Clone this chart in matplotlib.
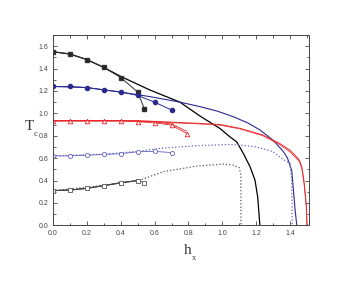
import matplotlib.pyplot as plt
from matplotlib.ticker import MultipleLocator

# simulation points (filled = upper branch, open = lower branch)
h_sq = [0.0, 0.1, 0.2, 0.3, 0.4, 0.5, 0.54]
tc_sq_filled = [1.55, 1.53, 1.48, 1.41, 1.32, 1.19, 1.04]
tc_sq_open = [0.31, 0.315, 0.33, 0.355, 0.38, 0.40, 0.38]

h_circ = [0.0, 0.1, 0.2, 0.3, 0.4, 0.5, 0.6, 0.7]
tc_circ_filled = [1.24, 1.24, 1.23, 1.21, 1.19, 1.16, 1.10, 1.03]
tc_circ_open = [0.62, 0.62, 0.627, 0.633, 0.64, 0.657, 0.66, 0.65]

h_tri = [0.0, 0.1, 0.2, 0.3, 0.4, 0.5, 0.6, 0.7, 0.79]
tc_tri = [0.935, 0.935, 0.935, 0.935, 0.935, 0.925, 0.915, 0.895, 0.82]
tc_tri2 = [0.935, 0.935, 0.935, 0.935, 0.935, 0.93, 0.925, 0.905, 0.84]

# theory curves
h_th_black = [0.0, 0.1, 0.2, 0.3, 0.4, 0.57, 0.75, 0.868, 0.986, 1.045, 1.085,
              1.124, 1.164, 1.193, 1.209, 1.222]
tc_th_black = [1.55, 1.53, 1.48, 1.41, 1.33, 1.21, 1.10, 0.976, 0.865, 0.79, 0.745,
               0.643, 0.523, 0.404, 0.255, 0.0]
h_dot_black = [0.0, 0.3, 0.514, 0.652, 0.849, 1.006, 1.065, 1.10, 1.11, 1.11]
tc_dot_black = [0.31, 0.355, 0.404, 0.479, 0.529, 0.547, 0.538, 0.515, 0.45, 0.0]

h_th_blue = [0.0, 0.2, 0.4, 0.57, 0.75, 0.868, 0.97, 1.065, 1.15, 1.223, 1.30,
             1.36, 1.385, 1.41, 1.42, 1.43, 1.44]
tc_th_blue = [1.24, 1.23, 1.19, 1.15, 1.10, 1.06, 1.02, 0.97, 0.915, 0.851, 0.76,
              0.66, 0.60, 0.49, 0.315, 0.137, 0.0]
h_dot_blue = [0.0, 0.3, 0.5, 0.632, 0.849, 1.03, 1.105, 1.203, 1.30, 1.35, 1.40,
              1.41, 1.413]
tc_dot_blue = [0.62, 0.635, 0.66, 0.687, 0.711, 0.722, 0.717, 0.70, 0.657, 0.598,
               0.553, 0.40, 0.0]

h_th_red = [0.0, 0.5, 0.868, 0.986, 1.105, 1.24, 1.34, 1.40, 1.43, 1.455, 1.47,
            1.482, 1.49, 1.497, 1.50]
tc_th_red = [0.935, 0.935, 0.91, 0.90, 0.866, 0.806, 0.73, 0.67, 0.625, 0.583,
             0.52, 0.40, 0.28, 0.166, 0.0]
tc_th_red2 = [0.93, 0.93, 0.905, 0.895, 0.86, 0.80, 0.72, 0.655, 0.61, 0.57,
              0.505, 0.385, 0.265, 0.15, 0.0]

black = 'black'
blue = '#2a2a90'
lblue = '#6464bf'
red = '#e8262a'

fig = plt.figure(figsize=(3.45, 2.82), dpi=100)
ax = fig.add_axes([0.1536, 0.201, 0.742, 0.675])

ax.plot(h_th_black, tc_th_black, '-', color=black, lw=0.9)
ax.plot(h_dot_black, tc_dot_black, ':', color='#555555', lw=0.9)
ax.plot(h_th_blue, tc_th_blue, '-', color=blue, lw=0.8)
ax.plot(h_dot_blue, tc_dot_blue, ':', color=lblue, lw=0.9)
ax.plot(h_th_red, tc_th_red, '-', color=red, lw=0.7)
ax.plot(h_th_red, tc_th_red2, '-', color=red, lw=0.5)

ax.plot(h_sq, tc_sq_filled, 's-', color='#333333', mfc='#222222', ms=2.6, lw=0.7)
ax.plot(h_sq[:6], tc_sq_open[:6], '-', color=black, lw=0.8)
ax.plot(h_sq, tc_sq_open, 's-', color='#555555', mfc='white', ms=2.8, lw=0.6, mew=0.6)
ax.plot(h_circ, tc_circ_filled, 'o-', color=blue, mfc=blue, ms=3, lw=0.7)
ax.plot(h_circ, tc_circ_open, 'o-', color=lblue, mfc='white', ms=3, lw=0.6, mew=0.6)
ax.plot(h_tri, tc_tri, '^-', color=red, mfc='white', ms=3.3, lw=0.6, mew=0.6)
ax.plot(h_tri, tc_tri2, '-', color=red, lw=0.6)

ax.set_xlim(0, 1.512)
ax.set_ylim(0, 1.7)
ax.xaxis.set_minor_locator(MultipleLocator(0.1))
ax.yaxis.set_minor_locator(MultipleLocator(0.1))
ax.set_xticks([0.0, 0.2, 0.4, 0.6, 0.8, 1.0, 1.2, 1.4])
ax.set_xticklabels(['0.0', '0.2', '0.4', '0.6', '0.8', '1.0', '1.2', '1.4'],
                   family='Liberation Sans')
ax.set_yticks([0.0, 0.2, 0.4, 0.6, 0.8, 1.0, 1.2, 1.4, 1.6])
ax.set_yticklabels(['0.0', '0.2', '0.4', '0.6', '0.8', '1.0', '1.2', '1.4', '1.6'],
                   family='Liberation Sans')
ax.tick_params(which='both', direction='in', top=True, right=True,
               labelsize=5, colors='#444444', width=0.6)
ax.tick_params(which='major', length=3)
ax.tick_params(which='minor', length=1.8)
for s in ax.spines.values():
    s.set_linewidth(0.7)
    s.set_color('#444444')

fig.text(29 / 345, 1 - 126 / 282, 'T', fontsize=11, family='Liberation Serif',
         ha='center', va='center', color='#333333')
fig.text(36 / 345, 1 - 134 / 282, 'c', fontsize=6, family='Liberation Serif',
         ha='center', va='center', color='#333333')
fig.text(188 / 345, 1 - 250 / 282, 'h', fontsize=11, family='Liberation Serif',
         ha='center', va='center', color='#333333')
fig.text(194 / 345, 1 - 258 / 282, 'x', fontsize=6, family='Liberation Serif',
         ha='center', va='center', color='#333333')

fig.savefig('out.png', dpi=100)
